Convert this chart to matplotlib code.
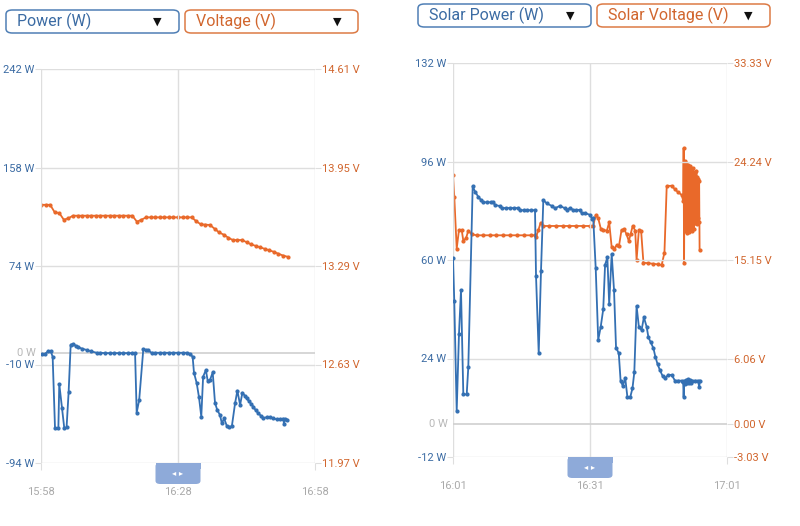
import matplotlib
matplotlib.use("Agg")
import matplotlib.pyplot as plt
from matplotlib.patches import FancyBboxPatch, Rectangle

plt.rcParams['font.family'] = ['Roboto', 'DejaVu Sans']

# ---------------- data ----------------
# Left chart (minutes after 15:58)
left_x_labels = ["15:58", "16:28", "16:58"]
left_power_t = [0.15, 0.9, 1.6, 2.1, 2.55, 3.07, 3.8, 4.0, 4.6, 5.1, 5.6, 6.05, 6.5, 7.07, 7.6, 8.2, 9.0,
                10.0, 11.0, 12.2, 13.0, 14.0, 15.0, 16.0, 17.0, 18.0, 19.0, 20.0, 20.6, 20.95, 21.5, 22.4,
                23.0, 23.5, 24.2, 25.0, 26.0, 27.0, 28.0, 29.0, 30.0, 31.0, 31.9, 32.6, 33.2, 33.5, 34.1,
                34.6, 35.1, 35.5, 36.1, 36.5, 37.0, 37.6, 38.1, 38.6, 39.2, 39.6, 40.1, 40.7, 41.2, 41.8,
                42.5, 43.0, 43.6, 44.1, 44.6, 45.0, 45.5, 46.0, 46.5, 47.0, 47.6, 48.1, 48.7, 49.4, 50.2,
                50.9, 51.6, 52.3, 53.1, 53.2, 53.4, 53.9]
left_power_w = [-1.3, -1.0, 1.5, 1.5, -3.3, -64.4, -64.4, -26.6, -47.1, -64.4, -63.6, -33.5, 6.9, 7.4, 6.0,
                4.7, 3.5, 2.4, 1.2, 0.0, 0.0, -0.3, -0.3, -0.3, -0.3, -0.3, -0.3, -0.3, -0.3, -51.1, -40.3,
                2.9, 2.5, 2.0, 0.0, 0.0, 0.0, 0.0, 0.0, 0.0, 0.0, 0.0, 0.0, -1.0, -3.3, -17.0, -26.0,
                -38.0, -54.5, -20.4, -14.7, -23.8, -23.3, -16.7, -42.6, -48.9, -53.1, -60.2, -56.0, -62.5,
                -63.6, -62.5, -43.0, -32.3, -44.5, -34.0, -36.5, -38.8, -41.0, -43.5, -46.0, -49.0, -51.6,
                -53.5, -55.6, -55.0, -55.0, -56.0, -56.7, -56.5, -56.2, -61.0, -56.5, -57.0]
left_volt_t = list(range(0, 55))
left_volt_v = [13.70, 13.70, 13.70, 13.65, 13.645, 13.60, 13.61, 13.627, 13.627, 13.627, 13.627, 13.627,
               13.627, 13.627, 13.627, 13.627, 13.627, 13.627, 13.627, 13.627, 13.627, 13.587, 13.60,
               13.616, 13.616, 13.616, 13.616, 13.616, 13.616, 13.616, 13.616, 13.616, 13.616, 13.616,
               13.59, 13.569, 13.567, 13.565, 13.54, 13.515, 13.50, 13.48, 13.464, 13.464, 13.464, 13.45,
               13.435, 13.425, 13.415, 13.405, 13.395, 13.385, 13.372, 13.36, 13.352]
left_w_ticks = [-94, -10, 74, 158, 242]
left_v_ticks = [11.97, 12.63, 13.29, 13.95, 14.61]

# Right chart (minutes after 16:01)
right_x_labels = ["16:01", "16:31", "17:01"]
right_power_t = [0.0, 0.28, 0.81, 1.31, 1.75, 2.26, 3.0, 3.35, 4.31, 4.82, 5.54, 6.1, 6.64, 7.5, 8.3, 8.83,
                 9.2, 10.3, 10.67, 11.5, 12.5, 13.4, 14.3, 14.67, 15.5, 16.3, 17.1, 17.96, 18.18, 18.77,
                 19.27, 19.78, 20.52, 21.6, 22.34, 23.43, 24.5, 24.9, 25.6, 26.3, 27.0, 27.8, 28.2, 29.0,
                 30.0, 30.5, 30.7, 31.25, 31.8, 32.35, 32.9, 33.3, 33.8, 34.2, 34.75, 35.26, 35.7, 36.3,
                 36.7, 37.2, 37.7, 38.2, 38.8, 39.3, 39.7, 40.2, 40.7, 41.3, 41.8, 42.4, 42.8, 43.3, 43.9,
                 44.3, 44.8, 45.3, 45.9, 46.4, 47.15, 47.9, 48.6, 49.3, 50.1, 50.4, 50.5, 50.65, 50.9, 51.1,
                 51.3, 51.5, 51.7, 51.9, 52.1, 52.3, 52.9, 53.65, 53.9, 54.1]
right_power_w = [60.7, 45.0, 4.8, 33.0, 49.0, 10.9, 10.9, 20.8, 87.0, 85.0, 83.1, 82.0, 81.1, 81.1, 81.1,
                 81.1, 80.1, 79.7, 79.0, 79.0, 79.0, 79.0, 79.0, 78.2, 78.2, 78.2, 78.2, 78.2, 54.1, 25.9,
                 56.0, 81.9, 80.7, 79.8, 78.9, 79.8, 78.9, 78.3, 79.0, 78.3, 78.3, 78.3, 77.1, 77.1, 76.5,
                 74.9, 75.5, 57.0, 30.8, 35.6, 42.0, 58.2, 61.0, 43.9, 62.2, 49.0, 28.0, 25.9, 15.9, 13.9,
                 17.0, 9.8, 9.8, 13.1, 18.9, 43.2, 35.6, 34.4, 39.1, 35.6, 31.7, 29.9, 27.7, 24.7, 21.9,
                 19.8, 17.6, 16.8, 18.0, 18.0, 15.9, 15.9, 15.9, 15.5, 10.0, 15.9, 14.8, 16.3, 15.0, 16.5,
                 14.9, 16.2, 15.2, 15.9, 15.9, 15.9, 13.7, 15.9]
right_volt_t = [0.0, 0.28, 0.81, 1.31, 1.9, 2.26, 2.85, 3.35, 4.1, 5.2, 6.5, 8.0, 9.5, 11.0, 12.5, 14.0,
                15.5, 17.0, 17.96, 18.2, 18.7, 19.2, 19.8, 21.0, 22.5, 24.0, 25.5, 27.0, 28.5, 30.0, 30.7,
                31.25, 31.8, 32.4, 32.9, 33.7, 34.2, 34.75, 35.26, 35.85, 36.35, 36.9, 37.5, 38.0, 38.5,
                38.9, 39.35, 39.9, 40.2, 40.7, 41.2, 41.7, 42.8, 43.9, 44.8, 45.7, 46.3, 46.8, 47.9, 48.6,
                49.3, 50.1, 50.4, 50.5, 50.6, 50.7, 50.8, 50.9, 51.0, 51.1, 51.2, 51.3, 51.4, 51.5, 51.6,
                51.7, 51.8, 51.9, 52.0, 52.1, 52.2, 52.3, 52.4, 52.5, 52.6, 52.7, 52.8, 52.9, 53.0, 53.1,
                53.2, 53.3, 53.4, 53.5, 53.6, 53.7, 53.8, 53.9, 54.0]
right_volt_v = [23.0, 21.0, 16.2, 17.92, 17.92, 16.93, 17.15, 17.86, 17.52, 17.43, 17.43, 17.43, 17.43,
                17.43, 17.43, 17.43, 17.43, 17.43, 17.43, 17.3, 17.92, 18.6, 18.29, 18.29, 18.29, 18.29,
                18.29, 18.29, 18.29, 18.29, 18.29, 19.3, 19.0, 17.98, 17.92, 17.86, 18.63, 16.32, 16.17,
                16.51, 16.45, 17.92, 17.98, 17.52, 16.9, 17.55, 18.29, 17.86, 15.15, 17.92, 17.8, 14.9,
                14.85, 14.8, 14.75, 14.69, 15.83, 21.98, 22.0, 21.67, 21.4, 21.15, 20.6, 25.46, 14.85,
                24.3, 17.8, 23.9, 18.3, 24.1, 17.6, 23.7, 18.0, 23.9, 17.7, 23.5, 18.2, 23.8, 17.9, 23.6,
                18.4, 23.4, 17.8, 23.6, 18.5, 23.2, 18.0, 23.3, 18.6, 22.9, 18.8, 23.4, 18.5, 22.8, 19.0,
                22.6, 18.7, 22.4, 16.1]
right_w_ticks = [-12, 24, 60, 96, 132]
right_v_ticks = [-3.03, 0.00, 6.06, 15.15, 24.24, 33.33]

# ---------------- styling ----------------
BLUE = '#3470b3'
ORANGE = '#e9692a'
BLUE_TXT = '#3b6ba3'
ORANGE_TXT = '#d1662e'
GRID = '#dedede'
GRAY_TXT = '#aaaaaa'
W, H = 800, 526

fig = plt.figure(figsize=(W / 100, H / 100), dpi=100)


def fx(x):
    return x / W


def fy(y):
    return 1 - y / H


def make_panel(x0, x1, y0, y1, pt, pw, vt, vv, wlim, vlim, wticks, vticks, xlabels):
    ax = fig.add_axes([fx(x0), fy(y1), fx(x1) - fx(x0), fy(y0) - fy(y1)])
    ax2 = ax.twinx()
    ax.set_zorder(ax2.get_zorder() + 1)
    ax.patch.set_visible(False)
    ax.set_xlim(0, 60)
    ax.set_ylim(*wlim)
    ax2.set_ylim(*vlim)
    for a in (ax, ax2):
        for s in a.spines.values():
            s.set_visible(False)
    ax.set_yticks(wticks)
    ax.set_yticklabels([f"{t} W" for t in wticks])
    ax2.set_yticks(vticks)
    ax2.set_yticklabels([f"{t:.2f} V" for t in vticks])
    ax.set_xticks([0, 30, 60])
    ax.set_xticklabels(xlabels)
    ax.tick_params(axis='y', colors=GRID, labelcolor=BLUE_TXT, labelsize=8, length=4, pad=1)
    ax2.tick_params(axis='y', colors=GRID, labelcolor=ORANGE_TXT, labelsize=8, length=4, pad=1)
    ax.tick_params(axis='x', colors=GRID, labelcolor=GRAY_TXT, labelsize=8, length=5, pad=12)
    for w in wticks:
        ax.axhline(w, color=GRID, lw=1, zorder=0)
    for xv in (0, 30, 60):
        ax.axvline(xv, color=GRID, lw=1, zorder=0)
    ax.axhline(0, color='#d0d0d0', lw=1.2, zorder=0)
    ax.text(-0.02, 0, "0 W", transform=ax.get_yaxis_transform(), ha='right', va='center',
            fontsize=8, color='#b8b8b8')
    ax2.plot(vt, vv, color=ORANGE, lw=1.3, marker='o', ms=2.0, zorder=3)
    ax.plot(pt, pw, color=BLUE, lw=1.3, marker='o', ms=2.0, zorder=4)
    return ax, ax2


make_panel(41, 315, 69, 463, left_power_t, left_power_w, left_volt_t, left_volt_v,
           (-94, 242), (11.97, 14.61), left_w_ticks, left_v_ticks, left_x_labels)
make_panel(453, 727, 63, 457, right_power_t, right_power_w, right_volt_t, right_volt_v,
           (-12, 132), (-3.03, 33.33), right_w_ticks, right_v_ticks, right_x_labels)


def dropdown(x0, x1, y0, y1, label, ec, tc, text_x, tri_x):
    box = FancyBboxPatch((fx(x0), fy(y1)), fx(x1) - fx(x0), fy(y0) - fy(y1),
                         boxstyle="round,pad=0,rounding_size=0.008", transform=fig.transFigure,
                         facecolor='white', edgecolor=ec, lw=1.1)
    fig.patches.append(box)
    yc = fy((y0 + y1) / 2)
    fig.text(fx(text_x), yc, label, color=tc, fontsize=11.5, va='center', ha='left')
    fig.text(fx(tri_x), yc, "\u25BC", color='#111111', fontsize=8, va='center', ha='center',
             family=['DejaVu Sans'], transform=fig.transFigure)


dropdown(6, 179, 10, 33, "Power (W)", '#4f7fb5', BLUE_TXT, 17, 157)
dropdown(185, 358, 10, 33, "Voltage (V)", '#dc7a45', ORANGE_TXT, 196, 337)
dropdown(418, 591, 4, 27, "Solar Power (W)", '#4f7fb5', BLUE_TXT, 429, 570)
dropdown(597, 770, 4, 27, "Solar Voltage (V)", '#dc7a45', ORANGE_TXT, 608, 748)


def handle(xc, ytop):
    w, h = 45, 21
    box = FancyBboxPatch((fx(xc - w / 2), fy(ytop + h)), w / W, h / H,
                         boxstyle="round,pad=0,rounding_size=0.006", transform=fig.transFigure,
                         facecolor='#8eaad9', edgecolor='none')
    fig.patches.append(box)
    top = Rectangle((fx(xc - w / 2), fy(ytop + 6)), w / W, 6 / H, transform=fig.transFigure,
                    facecolor='#8eaad9', edgecolor='none')
    fig.patches.append(top)
    fig.text(fx(xc), fy(ytop + h / 2), "\u25C2 \u25B8", color='white', fontsize=6,
             ha='center', va='center', family=['DejaVu Sans'])


handle(178, 463)
handle(590, 457)

fig.savefig("out.png", dpi=100)
